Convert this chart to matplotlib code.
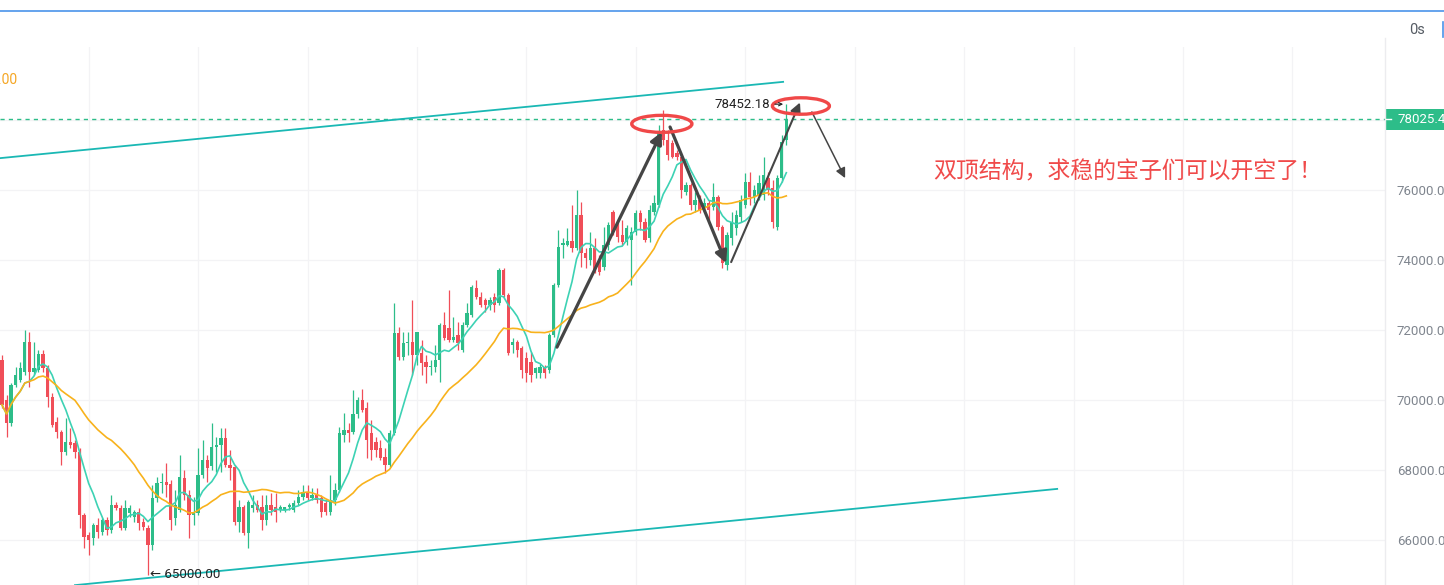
import matplotlib
matplotlib.use("Agg")
import matplotlib.pyplot as plt
import numpy as np
import pandas as pd
from matplotlib.patches import Ellipse, Rectangle
from matplotlib.lines import Line2D
from matplotlib.transforms import blended_transform_factory

# ---------------- data ----------------
open_ = [71140, 70000, 69340, 70430, 70570, 70800, 71660, 70800, 70860, 71310,
         70910, 70090, 69370, 69090, 68510, 68800, 68770, 68510, 66710, 66140,
         66060, 66430, 66230, 66570, 66290, 67000, 66910, 66340, 66770, 66660,
         66800, 66510, 66340, 65860, 67200, 67630, 67660, 67600, 66630, 66860,
         67770, 67290, 66710, 66770, 67860, 68290, 68110, 68660, 68710, 68910,
         68140, 68090, 66510, 66940, 66200, 66910, 67000, 66940, 66570, 67000,
         66940, 66860, 66860, 66940, 66860, 67060, 67230, 67370, 67200, 67290,
         67200, 67060, 66800, 67140, 67430, 69000, 69140, 69090, 69600, 70000,
         69770, 69060, 68800, 68630, 68370, 68140, 69060, 71910, 71230, 71630,
         71660, 71290, 71340, 71090, 70940, 70940, 71140, 72140, 72060, 71710,
         71860, 71430, 72140, 72430, 73200, 72940, 72860, 72710, 72940, 72770,
         73710, 73000, 71570, 71660, 71490, 71200, 71090, 70770, 70770, 70940,
         70860, 71860, 73290, 74430, 74430, 74540, 74340, 75290, 74200, 74000,
         74340, 74000, 73800, 74430, 75370, 75000, 74710, 74510, 74570, 74800,
         75340, 75090, 74630, 75370, 75570, 77710, 77430, 77340, 77060, 76940,
         75940, 76140, 75570, 75710, 75510, 75630, 75510, 75800, 74940, 73860,
         74630, 74910, 75230, 75570, 76230, 75800, 75860, 75860, 76340, 76060,
         74940, 76340, 77430]
high = [71290, 70140, 70490, 70940, 71090, 72000, 71940, 71660, 71430, 71430,
        71000, 70200, 69510, 69140, 69490, 69200, 68860, 68630, 66770, 66230,
        66490, 66630, 66630, 66660, 67290, 67090, 67000, 67140, 67000, 66860,
        66910, 66630, 66430, 67570, 67800, 67910, 68200, 67710, 67430, 68430,
        68000, 67430, 67230, 68630, 68860, 68430, 69340, 68940, 69200, 69200,
        68570, 68140, 67140, 67000, 67140, 67290, 67140, 67290, 67290, 67340,
        67340, 67000, 66940, 67060, 67140, 67430, 67570, 67570, 67490, 67490,
        67290, 67140, 67860, 67630, 69230, 69630, 69340, 70290, 70090, 70310,
        69940, 69430, 68940, 68860, 68630, 69140, 72770, 72090, 71940, 71940,
        72860, 71940, 71710, 71290, 71140, 71570, 72200, 72510, 73140, 72370,
        72230, 72230, 72770, 73290, 73430, 73090, 72910, 72940, 73060, 73770,
        73770, 73060, 71770, 71710, 71540, 71370, 71370, 70940, 71030, 71000,
        71910, 73340, 74860, 74630, 74910, 75570, 76000, 75660, 74340, 74800,
        74630, 74140, 74940, 75090, 75430, 75140, 75140, 75000, 74940, 75430,
        75430, 75200, 75570, 75860, 77860, 78290, 77710, 77430, 77140, 77000,
        76230, 76200, 75940, 75860, 75770, 75710, 76200, 75860, 75000, 74800,
        75370, 75430, 75860, 76490, 76510, 76140, 76430, 76940, 76510, 76290,
        76430, 77570, 78452.18]
low = [69770, 68940, 69260, 70370, 70510, 70710, 70370, 70710, 70800, 70800,
       69800, 69230, 68910, 68140, 68430, 68630, 68340, 66340, 65770, 65570,
       65860, 66060, 66140, 66140, 66200, 66860, 66290, 66290, 66660, 66510,
       66290, 66290, 65000, 65710, 67090, 67340, 67230, 66290, 66430, 66800,
       67140, 66060, 66430, 66710, 67770, 67660, 68000, 67940, 67940, 68090,
       67710, 66430, 66230, 66140, 65770, 66800, 66800, 66290, 66430, 66710,
       66510, 66800, 66800, 66860, 66800, 67000, 67140, 67140, 67140, 67060,
       66660, 66710, 66710, 67000, 67370, 68800, 68800, 69030, 69490, 69660,
       68340, 68290, 68370, 68290, 67910, 68090, 69000, 71140, 71140, 71290,
       70710, 71000, 70710, 70490, 70710, 70800, 70510, 71710, 71660, 71660,
       71430, 71370, 72090, 72370, 72890, 72660, 72510, 72570, 72510, 72710,
       72940, 71290, 71340, 71230, 70630, 70510, 70510, 70630, 70630, 70630,
       70770, 71800, 73230, 74060, 74400, 74230, 74290, 73800, 73770, 73860,
       73630, 73570, 73710, 74290, 74710, 74510, 74430, 74430, 73290, 74710,
       74860, 74510, 74510, 75290, 75510, 77290, 76860, 76910, 76860, 75770,
       75860, 75430, 75370, 75340, 75370, 75140, 75430, 74860, 73770, 73710,
       74430, 74710, 75090, 75490, 75570, 75630, 75710, 75710, 75860, 74910,
       74860, 76230, 77290]
close = [69860, 69340, 70430, 70710, 70910, 71660, 70800, 70910, 71310, 70910,
         70090, 69290, 69090, 68510, 68800, 68710, 68510, 66710, 66090, 66000,
         66430, 66230, 66570, 66290, 67000, 66910, 66340, 66910, 66910, 66800,
         66490, 66370, 65860, 67200, 67630, 67660, 67570, 66570, 67000, 67800,
         67290, 66710, 66800, 67860, 68290, 68060, 68660, 68710, 68910, 68140,
         68060, 66510, 66940, 66200, 67090, 67000, 66860, 66570, 67000, 66860,
         66800, 66940, 66940, 67000, 67060, 67230, 67370, 67200, 67290, 67140,
         66800, 66800, 67140, 67430, 69060, 69140, 69060, 69600, 70000, 69710,
         68860, 68570, 68570, 68340, 68140, 69060, 71910, 71230, 71630, 71660,
         71290, 71940, 71060, 70940, 70970, 71140, 72140, 71770, 71710, 71800,
         71630, 72140, 72490, 73230, 72940, 72710, 72710, 72860, 72710, 73710,
         73000, 71340, 71660, 71430, 70860, 70770, 70710, 70910, 70940, 70770,
         71860, 73290, 74370, 74490, 74540, 74340, 75290, 74200, 74060, 74340,
         73710, 73660, 74430, 75000, 74800, 74660, 74510, 74910, 74800, 75340,
         75090, 74570, 75430, 75630, 77660, 77430, 77000, 76940, 76940, 76000,
         76140, 75570, 75710, 75430, 75630, 75430, 75800, 74940, 73910, 74710,
         75090, 75290, 75710, 76230, 75800, 76000, 76200, 76430, 76000, 75090,
         76340, 77370, 78025.4]

y_ticks = [66000, 68000, 70000, 72000, 74000, 76000]
y_tick_labels = ["66000.00", "68000.00", "70000.00", "72000.00", "74000.00", "76000.00"]
last_price = 78025.4
last_price_label = "78025.40"
high_label = "78452.18"
low_label = "← 65000.00"
note_text = "双顶结构，求稳的宝子们可以开空了！"
legend_text = ".00"

# drawing anchors (candle index, price)
channel_upper = [(-0.44, 76910), (171.3, 79090)]
channel_lower = [(16.0, 64710), (231.4, 67460)]
arrows = [((121.7, 71510), (144.7, 77660), 2.3),
          ((146.5, 77800), (158.8, 73910), 2.3),
          ((159.9, 73940), (175.0, 78500), 1.5),
          ((177.6, 78230), (184.9, 76340), 1.1)]
ellipses = [((144.7, 77890), 13.2, 486), ((175.2, 78400), 12.5, 470)]

# ---------------- figure ----------------
W, H = 1444, 585
fig = plt.figure(figsize=(W / 100, H / 100), dpi=100)
fig.patch.set_facecolor("white")
ax_right_px = 1385
ax_top_px = 47
ax = fig.add_axes([0, 0, ax_right_px / W, (H - ax_top_px) / H])
ax.set_facecolor("white")

o = np.array(open_, float)
h = np.array(high, float)
l = np.array(low, float)
c = np.array(close, float)
idx = np.arange(len(c))

GREEN = "#2dbd89"
RED = "#f04e58"
cols = np.where(c >= o, GREEN, RED)

dx = 4.56
x0 = 2.0
p_per_px = 1000 / 35.0
xlim = (-x0 / dx, (ax_right_px - x0) / dx)
ylim = (76000 - (H - 190) * p_per_px, 76000 + (190 - ax_top_px) * p_per_px)

# grid
ax.set_yticks(y_ticks + [78000])
ax.set_yticklabels(y_tick_labels + [""])
ax.set_xticks(np.arange(19, 300, 24))
ax.grid(True, color="#f3f3f5", lw=0.9, zorder=0)
for s in ax.spines.values():
    s.set_visible(False)
ax.tick_params(axis="x", length=0, labelbottom=False)
ax.yaxis.tick_right()
ax.tick_params(axis="y", length=0, pad=8.5, labelsize=9.5, labelcolor="#7f858e")
for t in ax.get_yticklabels():
    t.set_fontfamily(["Roboto", "DejaVu Sans"])

# candles
ax.vlines(idx, l, h, colors=cols, lw=0.9, zorder=3)
ax.bar(idx, np.maximum(np.abs(c - o), 25), bottom=np.minimum(o, c), width=0.72,
       color=cols, lw=0, zorder=4)

# moving averages
ma_fast = pd.Series(c).rolling(7, min_periods=1).mean()
ma_slow = pd.Series(c).rolling(25, min_periods=1).mean()
ax.plot(idx, ma_fast, color="#3dd2b4", lw=1.2, zorder=5)
ax.plot(idx, ma_slow, color="#f8b21c", lw=1.2, zorder=5)

# last price dashed line
ax.axhline(last_price, color=GREEN, ls=(0, (3, 3)), lw=1.0, zorder=2)

# channel lines
for line in (channel_upper, channel_lower):
    xs, ys = zip(*line)
    ax.plot(xs, ys, color="#1ab8b4", lw=1.3, zorder=6)

# arrows
for start, tip, lw in arrows:
    ax.annotate("", xy=tip, xytext=start,
                arrowprops=dict(arrowstyle="-|>", color="#454545", lw=lw,
                                mutation_scale=12 + 2.5 * lw, shrinkA=0, shrinkB=0),
                zorder=7)

# ellipses
for (cx, cy), w, hh in ellipses:
    ax.add_patch(Ellipse((cx, cy), w, hh, fill=False, ec="#f04848", lw=2.4, zorder=8))

# high / low markers
ax.text(168.4, 78452.18, high_label, ha="right", va="center", fontsize=9.5,
        color="#222222", family=["Roboto", "DejaVu Sans"], zorder=9)
ax.annotate("", xy=(171.3, 78452.18), xytext=(169.5, 78452.18),
            arrowprops=dict(arrowstyle="->", lw=0.8, color="#222222",
                            mutation_scale=6, shrinkA=0, shrinkB=0), zorder=9)
ax.text(32.45, 65000, low_label, ha="left", va="center", fontsize=9.5,
        color="#222222", family=["Roboto", "DejaVu Sans"], zorder=9)

ax.set_xlim(*xlim)
ax.set_ylim(*ylim)

# note text
fig.text(933 / W, 1 - 172 / H, note_text, ha="left", va="center", fontsize=16.5,
         color="#f04a4a", family=["Noto Sans CJK SC", "DejaVu Sans"])

# legend remnant
fig.text(17 / W, 1 - 80 / H, legend_text, ha="right", va="center", fontsize=10,
         color="#f5a623", family=["Roboto", "DejaVu Sans"])

# last price label box on the axis
bt = blended_transform_factory(ax.transAxes, ax.transData)
box_h = 21 * p_per_px
ax.add_patch(Rectangle((1.0, last_price - box_h / 2), 0.06, box_h, transform=bt,
                       facecolor=GREEN, edgecolor="none", clip_on=False, zorder=10))
ax.add_line(Line2D([1.0007, 1.0045], [last_price, last_price], transform=bt,
                   color="white", lw=1, clip_on=False, zorder=11))
ax.text(1.0 + 12 / ax_right_px, last_price, last_price_label, transform=bt,
        ha="left", va="center", fontsize=9.5, color="white",
        family=["Roboto", "DejaVu Sans"], clip_on=False, zorder=11)

# frame decorations
fig.add_artist(Line2D([0, 1], [1 - 10.5 / H] * 2, color="#4a94ea", lw=1.2))
fig.add_artist(Line2D([ax_right_px / W] * 2, [0, 1 - 38 / H], color="#ececef", lw=1))
fig.text(1417 / W, 1 - 30 / H, "0s", ha="center", va="center", fontsize=10.5,
         color="#555b63", family=["Roboto", "DejaVu Sans"])
fig.add_artist(Line2D([1443 / W] * 2, [1 - 22 / H, 1 - 37 / H], color="#4a94ea", lw=1.2))

fig.savefig("out.png", dpi=100, facecolor="white")
